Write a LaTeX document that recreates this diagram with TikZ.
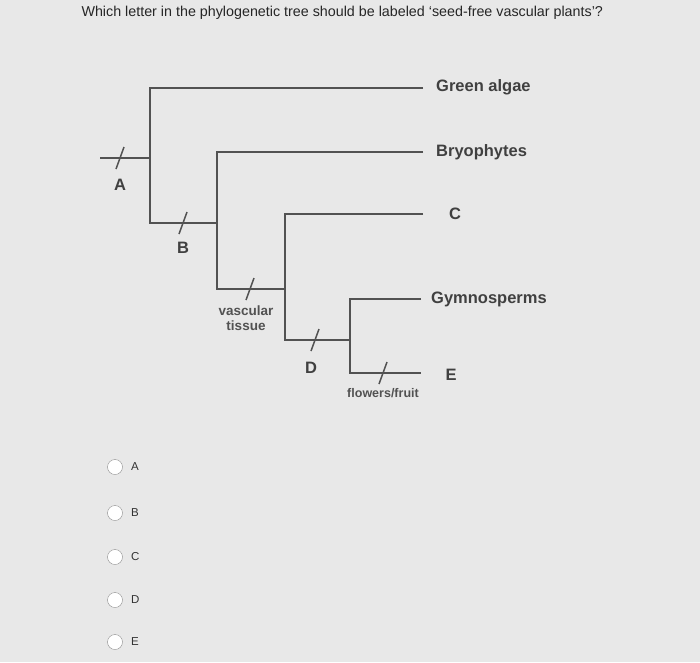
\documentclass[tikz,border=0pt]{standalone}
\usepackage{fontspec}
\setmainfont{Liberation Sans}
\usetikzlibrary{positioning}

\tikzset{
  branch/.style={draw=black!68,line width=2.2pt},
  taxon/.style={font=\bfseries\fontsize{16.5}{18}\selectfont,text=black!75,inner sep=1pt},
  trait/.style={font=\bfseries\fontsize{13.5}{15}\selectfont,text=black!68,align=center,inner sep=1pt},
  option/.style={draw=black!45,circle,minimum size=15pt,inner sep=0pt,fill=white},
}

\begin{document}
\begin{tikzpicture}[x=1pt,y=-1pt]
\fill[black!9] (0,0) rectangle (700,662);
\useasboundingbox (0,0) rectangle (700,662);

\node[anchor=west,font=\fontsize{14.3}{16}\selectfont,text=black!85] (question) at (78,13)
  {Which letter in the phylogenetic tree should be labeled `seed-free vascular plants'?};

%% branch points
\coordinate (root) at (100,158);
\coordinate (n1) at (150,158);
\coordinate (n2) at (217,223);
\coordinate (n3) at (285,289);
\coordinate (n4) at (350,340);

%% tips
\node[taxon,anchor=west] (algae) at (435,87) {Green algae};
\node[taxon,anchor=west] (bryo) at (435,152) {Bryophytes};
\node[taxon] (tipc) at (455,214) {C};
\node[taxon,anchor=west] (gymno) at (430,299) {Gymnosperms};
\node[taxon] (tipe) at (451,375) {E};
\coordinate (ealg) at (423,88);
\coordinate (ebry) at (423,152);
\coordinate (ec) at (423,214);
\coordinate (egym) at (421,299);
\coordinate (ee) at (421,373);

%% tree
\draw[branch] (root) -- (n1);
\draw[branch] (ealg) -- (150,88) -- (150,223) -- (n2);
\draw[branch] (ebry) -- (217,152) -- (217,289) -- (n3);
\draw[branch] (ec) -- (285,214) -- (285,340) -- (n4);
\draw[branch] (egym) -- (350,299) -- (350,373) -- (ee);

%% traits
\foreach \x/\y in {120/158, 183/223, 250/289, 315/340, 383/373}
  \draw[branch,line width=1.5pt] (\x-4,\y+11) -- (\x+4,\y-11);
\node[taxon] (ma) at (120,185) {A};
\node[taxon] (mb) at (183,248) {B};
\node[trait] (mv) at (246,318) {vascular\\tissue};
\node[taxon] (md) at (311,368) {D};
\node[trait,font=\bfseries\fontsize{12.5}{14}\selectfont] (mf) at (383,393) {flowers/fruit};

%% answers
\foreach \l/\y in {A/467, B/513, C/557, D/600, E/642} {
  \node[option] (o\l) at (115,\y) {};
  \node[right=5pt of o\l,font=\fontsize{11.5}{13}\selectfont,text=black!80] (t\l) {\l};
}
\end{tikzpicture}
\end{document}
